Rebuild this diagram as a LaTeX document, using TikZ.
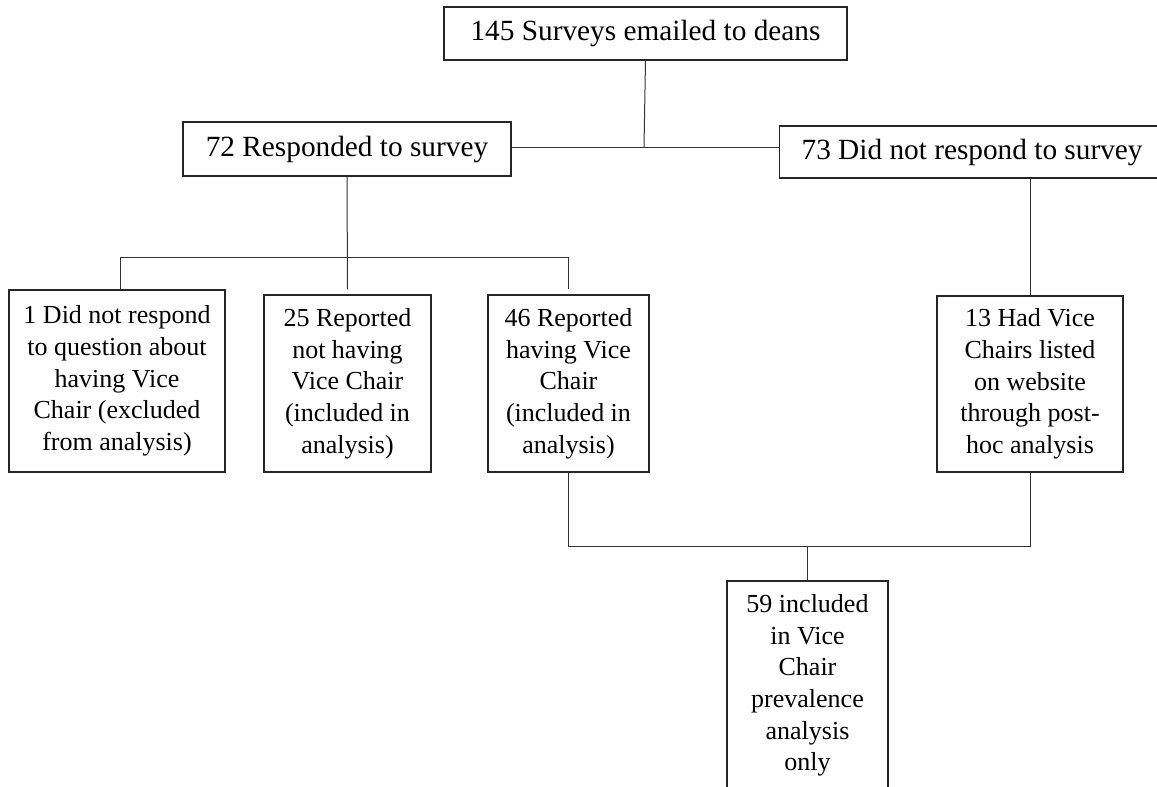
\documentclass[tikz,border=0pt]{standalone}
\usepackage{fontspec}
\setmainfont{Liberation Serif}
\usetikzlibrary{positioning, calc}

\begin{document}
\begin{tikzpicture}[x=1pt,y=-1pt,
  top/.style={rectangle,draw=black!85,line width=1.2pt,inner sep=0pt,
              align=center,font=\fontsize{29.3}{34}\selectfont},
  sub/.style={rectangle,draw=black!85,line width=1.2pt,inner sep=0pt,
              align=center,font=\fontsize{26}{31.7}\selectfont},
  link/.style={line width=1pt,draw=black!80}
]
  \useasboundingbox (0,0) rectangle (1157,787);
  \clip (0,0) rectangle (1157,787);

  \node[top,minimum width=403,minimum height=53] (deans)   at (645.5,33.5) {145 Surveys emailed to deans};
  \node[top,minimum width=328,minimum height=54] (resp)    at (347,149)    {72 Responded to survey};
  \node[top,minimum height=52,anchor=west,inner xsep=22,text width=376,align=flush left] (nonresp)
    at (779,152) {73 Did not respond to survey};

  \node[sub,minimum width=216,minimum height=182] (noans) at (117,381)
    {1 Did not respond\\to question about\\having Vice\\Chair (excluded\\from analysis)};
  \node[sub,minimum width=167,minimum height=177] (novc)  at (347.5,383.5)
    {25 Reported\\not having\\Vice Chair\\(included in\\analysis)};
  \node[sub,minimum width=161,minimum height=177] (hasvc) at (568.5,383.5)
    {46 Reported\\having Vice\\Chair\\(included in\\analysis)};
  \node[sub,minimum width=186,minimum height=176] (web)   at (1030,384)
    {13 Had Vice\\Chairs listed\\on website\\through post-\\hoc analysis};
  \node[sub,minimum width=161,minimum height=209] (final) at (807.5,685.5)
    {59 included\\in Vice\\Chair\\prevalence\\analysis\\only};

  \coordinate (split)  at (644,147);
  \coordinate (barup)  at (0,257);
  \coordinate (barlow) at (0,546);

  \draw[link] (deans.south) -- (split);
  \draw[link] (resp.east |- split) -- (nonresp.west |- split);
  \draw[link] (resp.south) -- ($(novc.north)+(0,-5)$);
  \draw[link] (120,0 |- barup) coordinate (bl) -- (hasvc.north |- barup);
  \draw[link] (bl) -- (bl |- noans.north);
  \draw[link] (hasvc.north |- barup) -- ($(hasvc.north)+(0,-5)$);
  \draw[link] (web.north) -- (web.north |- nonresp.south);
  \draw[link] (hasvc.south) -- (hasvc.south |- barlow) -- (web.south |- barlow) -- (web.south);
  \draw[link] (final.north) -- (final.north |- barlow);
\end{tikzpicture}
\end{document}
